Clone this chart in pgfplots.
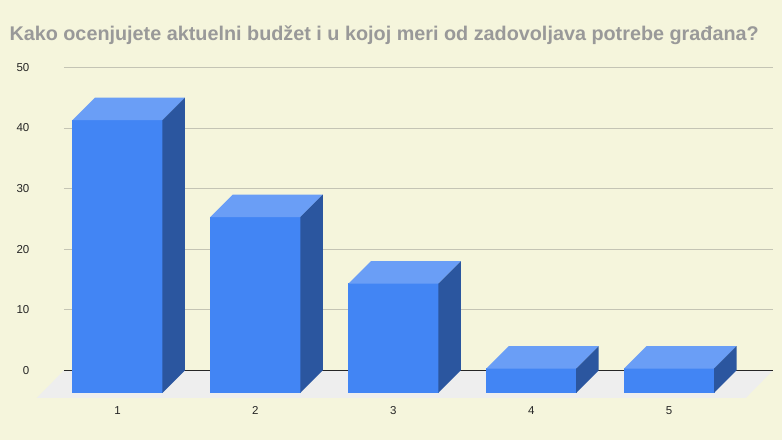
\documentclass[border=0pt]{standalone}
\usepackage{fontspec}
\setmainfont{Liberation Sans}
\usepackage{pgfplots}
\pgfplotsset{compat=1.18}

\definecolor{bgbeige}{HTML}{F5F5DC}
\definecolor{titlegray}{HTML}{999999}
\definecolor{gridc}{HTML}{C4C4B4}
\definecolor{floorc}{HTML}{EEEEEE}
\definecolor{frontc}{HTML}{4285F4}
\definecolor{topc}{HTML}{6A9EF6}
\definecolor{sidec}{HTML}{2B569F}

% 3D bar drawn from its back-top-centre point; height taken from the value
\pgfdeclareplotmark{bar3d}{%
  \pgfmathsetmacro\barh{\barval*6.06}%
  \pgfsetfillcolor{frontc}%
  \pgfpathrectanglecorners{\pgfpoint{-67.5pt}{-22.5pt-\barh pt}}{\pgfpoint{23pt}{-22pt}}%
  \pgfusepath{fill}%
  \pgfsetfillcolor{topc}%
  \pgfpathmoveto{\pgfpoint{-67.5pt}{-22.5pt}}%
  \pgfpathlineto{\pgfpoint{22.5pt}{-22.5pt}}%
  \pgfpathlineto{\pgfpoint{45pt}{0pt}}%
  \pgfpathlineto{\pgfpoint{-45pt}{0pt}}%
  \pgfpathclose
  \pgfusepath{fill}%
  \pgfsetfillcolor{sidec}%
  \pgfpathmoveto{\pgfpoint{22.5pt}{-22.5pt}}%
  \pgfpathlineto{\pgfpoint{45pt}{0pt}}%
  \pgfpathlineto{\pgfpoint{45pt}{-\barh pt}}%
  \pgfpathlineto{\pgfpoint{22.5pt}{-22.5pt-\barh pt}}%
  \pgfpathclose
  \pgfusepath{fill}%
}

\begin{document}
\begin{tikzpicture}
\fill[bgbeige] (0pt,0pt) rectangle (782pt,440pt);
\useasboundingbox (0pt,0pt) rectangle (782pt,440pt);
\node[anchor=base west, inner sep=0pt, text=titlegray, font=\fontsize{19.8}{23}\selectfont\bfseries]
  at (9.3pt,399.3pt) {Kako ocenjujete aktuelni budžet i u kojoj meri od zadovoljava potrebe građana?};
\begin{axis}[
    at={(64pt,69.7pt)}, anchor=south west,
    scale only axis,
    width=709pt, height=303pt,
    xmin=0.449, xmax=5.59,
    ymin=0, ymax=50,
    clip=false,
    axis line style={draw=none},
    tick style={draw=none},
    xtick={1,2,3,4,5},
    ytick={0,10,20,30,40,50},
    ymajorgrids,
    grid style={gridc, line width=0.8pt},
    /pgf/number format/assume math mode=true,
    ticklabel style={font=\fontsize{11.5}{13}\selectfont, text=black!85},
    xticklabel style={anchor=center, inner sep=0pt, xshift=-22.5pt, yshift=-40.5pt},
    yticklabel style={anchor=east, inner sep=0pt, xshift=-34.5pt},
]
% floor
\fill[floorc] (axis cs:0.449,0) -- (axis cs:5.59,0) -- ++(-27pt,-27.5pt) -- ([xshift=-27pt,yshift=-27.5pt]axis cs:0.449,0) -- cycle;
\draw[black!85, line width=0.9pt] (axis cs:0.449,0) -- (axis cs:5.59,0);
\addplot[only marks, mark=bar3d, visualization depends on={rawy \as \barval}] coordinates {
(1,45)
(2,29)
(3,18)
(4,4)
(5,4)
};
\end{axis}
\end{tikzpicture}
\end{document}
